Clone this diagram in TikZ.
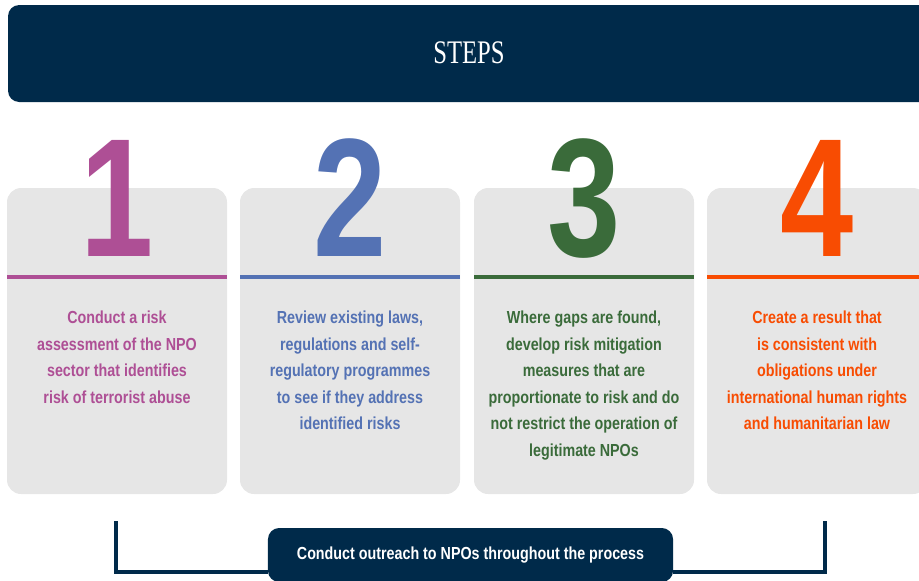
\documentclass[tikz,border=0pt]{standalone}
\usepackage{fontspec}
\newfontfamily\narrowfont[FakeStretch=0.82]{Liberation Sans}
\newfontfamily\digitfont[FakeStretch=0.78]{Liberation Sans}
\newfontfamily\stepsfont[FakeStretch=0.75]{Liberation Serif}
\definecolor{navy}{RGB}{0,42,74}
\definecolor{cardgray}{RGB}{230,230,230}
\definecolor{stepone}{RGB}{174,79,149}
\definecolor{steptwo}{RGB}{84,114,180}
\definecolor{stepthree}{RGB}{58,107,58}
\definecolor{stepfour}{RGB}{248,76,2}

\begin{document}
\begin{tikzpicture}[x=0.025cm,y=-0.025cm]
        \tikzstyle{every node}=[font=\narrowfont\bfseries\fontsize{12.4pt}{18.8pt}\selectfont]
        \tikzstyle{digit}=[font=\digitfont\bfseries\fontsize{120pt}{120pt}\selectfont,anchor=base,inner sep=0]
        \tikzstyle{steptext}=[anchor=north,align=center,inner sep=0]
        \useasboundingbox (0,0) rectangle (919,580);
        \begin{scope}
           % banner
           \fill[navy,rounded corners=8pt] (8,5) rectangle (935,102);
           \node[text=white,font=\stepsfont\fontsize{23.4pt}{28pt}\selectfont] (steps) at (469,53) {STEPS};

           % cards, coloured rules and numbers
           \foreach\x/\c/\n in {7/stepone/1,240/steptwo/2,474/stepthree/3,707/stepfour/4}{
               \fill[cardgray,rounded corners=10pt] (\x,188) rectangle ++(220,306);
               \draw[\c,line width=2.8pt] (\x,277) -- ++(220,0);
               \node[digit,text=\c] (num\n) at (\x+110,256) {\n};
           }

           \node[steptext,text=stepone] (txtone) at (117,311)
               {Conduct a risk\\assessment of the NPO\\sector that identifies\\risk of terrorist abuse};
           \node[steptext,text=steptwo] (txttwo) at (350,311)
               {Review existing laws,\\regulations and self-\\regulatory programmes\\to see if they address\\identified risks};
           \node[steptext,text=stepthree] (txtthree) at (584,311)
               {Where gaps are found,\\develop risk mitigation\\measures that are\\proportionate to risk and do\\not restrict the operation of\\legitimate NPOs};
           \node[steptext,text=stepfour] (txtfour) at (817,311)
               {Create a result that\\is consistent with\\obligations under\\international human rights\\and humanitarian law};

           % outreach bracket
           \node[fill=navy,text=white,rounded corners=8pt,minimum width=10.125cm,minimum height=1.35cm] (outreach) at (470.5,555)
               {Conduct outreach to NPOs throughout the process};
           \coordinate (lft) at (116,521);
           \coordinate (rgt) at (825,521);
           \coordinate (bend) at (0,572);
           \draw[navy,line width=2.2pt] (lft) -- (lft |- bend) -- (outreach.west |- bend);
           \draw[navy,line width=2.2pt] (rgt) -- (rgt |- bend) -- (outreach.east |- bend);
        \end{scope}
\end{tikzpicture}
\end{document}
